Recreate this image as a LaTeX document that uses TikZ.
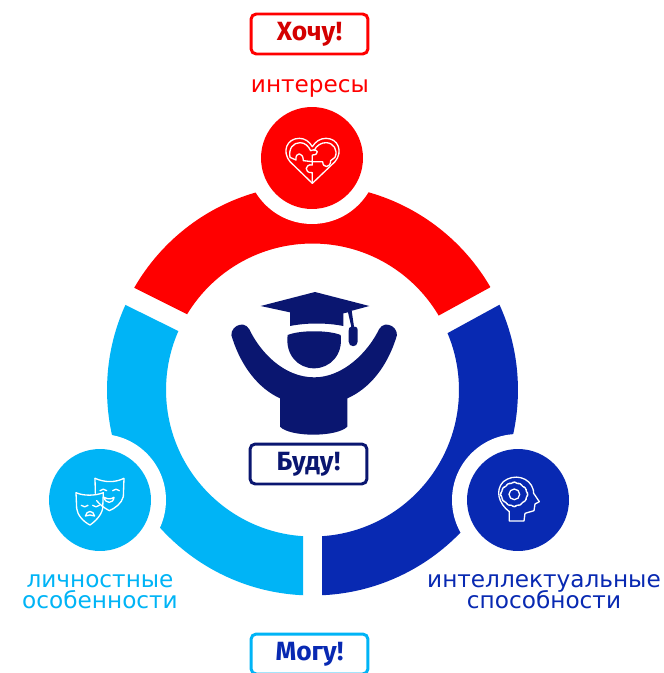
\documentclass[tikz,border=0pt]{standalone}
\usepackage{fontspec}
\setmainfont{DejaVu Sans}
\newfontfamily\boxfont{Fira Sans}
\definecolor{cred}{HTML}{FF0000}
\definecolor{cdred}{HTML}{D40000}
\definecolor{ccyan}{HTML}{00B4F6}
\definecolor{cblue}{HTML}{0829B2}
\definecolor{cnavy}{HTML}{0A1670}
\tikzset{
  x=0.02cm,y=-0.02cm,
  tagbox/.style={draw=#1,line width=1.7pt,rounded corners=3pt,fill=white,minimum width=2.34cm,minimum height=0.8cm,inner sep=0pt},
  tagtext/.style={text=#1,font=\boxfont\fontsize{15}{15}\selectfont\bfseries},
  lbl/.style={text=#1,font=\fontsize{13.2}{13.2}\selectfont,align=center,inner sep=0pt},
  iconline/.style={draw=white,line width=0.75pt,line join=round,line cap=round,fill=none},
  halo/.style={circle,fill=white,draw=none,minimum size=2.64cm,inner sep=0pt},
  disc/.style={circle,fill=#1,draw=none,minimum size=2.04cm,inner sep=0pt},
  ring/.style={fill=#1,even odd rule}
}
\begin{document}
\begin{tikzpicture}
\useasboundingbox (0,0) rectangle (663,673);
\fill[white] (0,0) rectangle (663,673);
% ring segments
\begin{scope}
\clip (320,380.6) -- (28,234.7) -- (28,-50) -- (593,-50) -- (593,231) -- cycle;
\fill[ring=cred] (312.5,390) circle[radius=4.11cm] (312.5,390) circle[radius=2.93cm];
\end{scope}
\begin{scope}
\clip (303,392.6) -- (0,243) -- (0,700) -- (303,700) -- cycle;
\fill[ring=ccyan] (312.5,390) circle[radius=4.11cm] (312.5,390) circle[radius=2.93cm];
\end{scope}
\begin{scope}
\clip (322,401.8) -- (640,227.9) -- (640,700) -- (322,700) -- cycle;
\fill[ring=cblue] (312.5,390) circle[radius=4.11cm] (312.5,390) circle[radius=2.93cm];
\end{scope}
% discs
\node[halo] (haloA) at (312,158) {};
\node[halo] (haloB) at (100,500) {};
\node[halo] (haloC) at (518,500) {};
\node[disc=cred] (discA) at (312,158) {};
\node[disc=ccyan] (discB) at (100,500) {};
\node[disc=cblue] (discC) at (518,500) {};
% heart icon (zoom origin 240,120, 3x)
\begin{scope}[shift={(240,120)},scale=1/3]
\draw[iconline] (217,190) -- (150,125) .. controls (125,95) and (140,55) .. (178,55) .. controls (195,55) and (208,65) .. (217,80) .. controls (226,65) and (240,55) .. (258,55) .. controls (295,55) and (310,95) .. (285,125) -- cycle;
\draw[iconline] (150,112) .. controls (145,85) and (160,68) .. (180,68) .. controls (195,68) and (205,78) .. (212,92) .. controls (235,82) and (240,105) .. (217,105) -- (217,125) -- (190,122) .. controls (190,95) and (165,95) .. (168,120) -- (150,112);
\draw[iconline] (222,92) .. controls (230,75) and (245,68) .. (258,68) .. controls (280,68) and (295,90) .. (285,112) -- (272,122) .. controls (272,145) and (248,145) .. (248,125) -- (217,125);
\draw[iconline] (217,125) -- (217,135) .. controls (195,130) and (190,160) .. (217,158) -- (217,190);
\end{scope}
% masks icon (zoom origin 40,440, 3x)
\begin{scope}[shift={(40,440)},scale=1/3]
\draw[iconline] (165,115) .. controls (195,128) and (225,128) .. (252,115) -- (250,170) .. controls (245,190) and (225,205) .. (208,212) .. controls (195,205) and (180,195) .. (170,182);
\draw[iconline] (165,115) -- (166,160);
\draw[iconline] (108,158) .. controls (130,168) and (165,168) .. (190,158) -- (188,205) .. controls (185,225) and (165,245) .. (150,255) .. controls (130,245) and (112,225) .. (110,205) -- cycle;
\draw[iconline] (180,152) .. controls (186,146) and (194,146) .. (200,152) (218,152) .. controls (224,146) and (232,146) .. (238,152);
\draw[iconline] (192,172) .. controls (205,178) and (212,178) .. (222,172) .. controls (220,192) and (196,192) .. (192,172) -- cycle;
\draw[iconline] (124,196) .. controls (130,202) and (138,202) .. (144,196) (158,196) .. controls (164,202) and (172,202) .. (178,196);
\draw[iconline] (136,228) .. controls (140,210) and (160,210) .. (164,228) .. controls (155,224) and (145,224) .. (136,228) -- cycle;
\end{scope}
% head icon (zoom origin 460,440, 3x)
\begin{scope}[shift={(460,440)},scale=1/3]
\draw[iconline] (148,243) -- (148,215) .. controls (115,190) and (105,150) .. (130,125) .. controls (160,100) and (210,110) .. (220,150) -- (221,160) -- (238,185) -- (225,192) -- (222,212) -- (195,220) -- (192,243) -- cycle;
\draw[iconline,rounded corners=1.5pt] (163,122) -- (170,133) -- (182,128) -- (186,141) -- (199,142) -- (197,155) -- (207,163) -- (197,171) -- (199,184) -- (186,185) -- (182,198) -- (170,193) -- (163,204) -- (155,193) -- (143,198) -- (139,185) -- (126,184) -- (128,171) -- (118,163) -- (128,155) -- (126,142) -- (139,141) -- (143,128) -- (155,133) -- cycle;
\draw[iconline] (163,163) circle[radius=16];
\end{scope}
% graduate (zoom origin 210,280, 3x)
\begin{scope}[shift={(210,280)},scale=1/3]
\fill[cnavy] (152,78) -- (315,36) -- (478,78) -- (415,95) -- (425,92) -- (432,140) .. controls (442,140) and (443,145) .. (443,155) -- (443,185) .. controls (443,203) and (416,203) .. (416,185) -- (416,155) .. controls (416,145) and (418,140) .. (424,140) -- (414,97) -- (400,100) -- (400,138) .. controls (350,128) and (290,128) .. (240,138) -- (240,97) -- cycle;
\fill[cnavy] (233,165) .. controls (270,150) and (355,150) .. (392,165) .. controls (400,225) and (360,265) .. (312,265) .. controls (265,265) and (225,225) .. (233,165) -- cycle;
\fill[cnavy] (68,178) .. controls (50,145) and (100,115) .. (118,148) .. controls (150,215) and (220,292) .. (313,292) .. controls (400,292) and (475,215) .. (507,148) .. controls (525,115) and (575,145) .. (557,178) .. controls (530,260) and (480,325) .. (412,355) -- (412,440) .. controls (380,472) and (240,472) .. (210,440) -- (210,355) .. controls (145,325) and (95,260) .. (68,178) -- cycle;
\end{scope}
% tags
\node[tagbox=cred,tagtext=cdred] (want) at (309.5,34) {Хочу!};
\node[tagbox=cnavy,tagtext=cnavy] (will) at (308.5,464) {Буду!};
\node[tagbox=ccyan,tagtext=cblue] (can) at (309.5,654) {Могу!};
% labels
\node[lbl=cred] (interests) at (310,88) {интересы};
\node[lbl=ccyan,anchor=north] (pers) at (100,574) {личностные\\[-1.2pt]особенности};
\node[lbl=cblue,anchor=north] (intel) at (544,574) {интеллектуальные\\[-1.2pt]способности\hspace{4.5pt}};
\end{tikzpicture}
\end{document}
